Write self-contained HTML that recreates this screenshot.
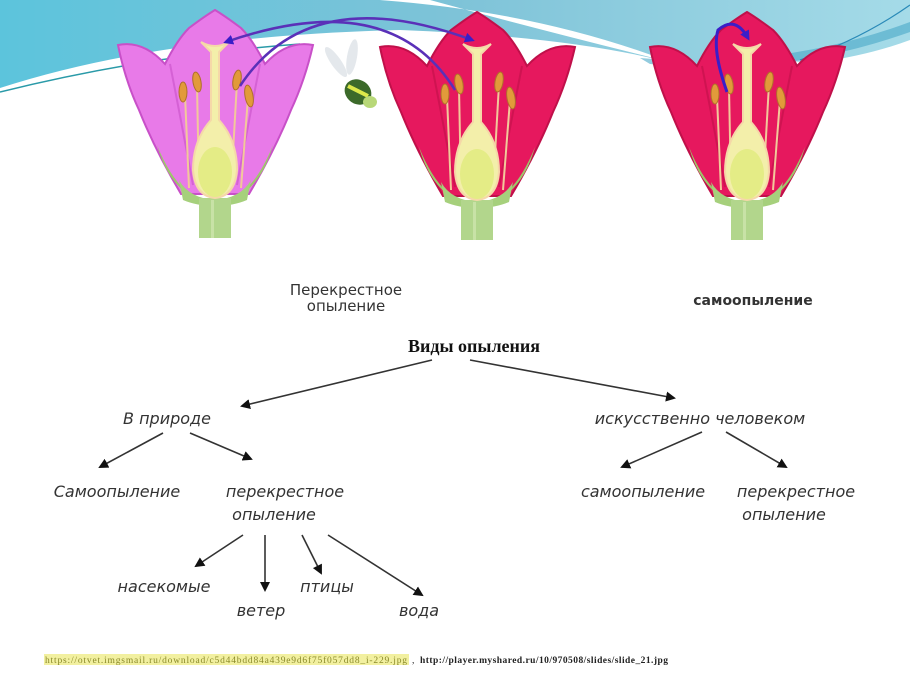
<!DOCTYPE html>
<html><head><meta charset="utf-8"><style>
html,body{margin:0;padding:0;background:#fff}
svg{display:block}
.t{font-family:"DejaVu Sans","Liberation Sans",sans-serif;font-style:italic;fill:#333;font-size:16px}
</style></head><body>
<svg width="910" height="683" viewBox="0 0 910 683" xmlns="http://www.w3.org/2000/svg">
<defs>
<linearGradient id="bg" x1="0" y1="0" x2="1" y2="0">
<stop offset="0" stop-color="#5cc4dc"/><stop offset="0.5" stop-color="#7ec3d8"/><stop offset="1" stop-color="#a5dbe8"/></linearGradient>
<marker id="ah" markerWidth="10" markerHeight="10" refX="8" refY="5" orient="auto" markerUnits="userSpaceOnUse">
<path d="M0,0 L10,5 L0,10 Z" fill="#111"/></marker>
<marker id="pa" markerWidth="10" markerHeight="10" refX="7" refY="5" orient="auto" markerUnits="userSpaceOnUse">
<path d="M0,0 L10,5 L0,10 Z" fill="#3a1ec8"/></marker>
<g id="fl">
<path d="M-97,45 Q-72,40 -50,64 Q-38,40 -26,28 Q-10,16 0,10 Q10,16 26,28 Q38,40 50,64 Q72,40 98,45 Q90,80 76,110 Q60,150 34,194 L-34,194 Q-60,150 -76,110 Q-90,80 -97,45 Z" fill="var(--p)" stroke="var(--e)" stroke-width="2"/>
<path d="M-45,64 Q-34,120 -22,185 M45,64 Q34,120 22,185" stroke="var(--e)" stroke-width="2" fill="none" opacity="0.6"/>
<path d="M-58,145 Q-48,182 -22,198 L-30,190 Q-46,175 -58,145 Z M58,145 Q48,182 22,198 L30,190 Q46,175 58,145 Z" fill="#9cc86a"/>
<path d="M-36,180 Q-26,198 0,200 Q26,198 36,180 L32,200 Q18,206 0,206 Q-18,206 -32,200 Z" fill="#a6d07c"/>
<rect x="-16" y="198" width="32" height="40" fill="#b2d68c"/>
<rect x="-4" y="200" width="3" height="38" fill="#c8e2a6"/>
<line x1="-30" y1="95" x2="-26" y2="188" stroke="#f2c89a" stroke-width="2"/>
<line x1="-18" y1="85" x2="-16" y2="188" stroke="#f2c89a" stroke-width="2"/>
<line x1="22" y1="82" x2="16" y2="188" stroke="#f2c89a" stroke-width="2"/>
<line x1="33" y1="98" x2="26" y2="188" stroke="#f2c89a" stroke-width="2"/>
<ellipse cx="-32" cy="92" rx="4" ry="10" fill="#e29a3a" stroke="#b0702a"/>
<ellipse cx="-18" cy="82" rx="4" ry="10" fill="#e29a3a" stroke="#b0702a" transform="rotate(-10 -18 82)"/>
<ellipse cx="22" cy="80" rx="4" ry="10" fill="#e29a3a" stroke="#b0702a" transform="rotate(10 22 80)"/>
<ellipse cx="34" cy="96" rx="4" ry="11" fill="#e29a3a" stroke="#b0702a" transform="rotate(-10 34 96)"/>
<path d="M-14,42 Q0,50 14,42 L4,52 L4,120 Q22,140 22,170 Q20,196 0,198 Q-20,196 -22,170 Q-22,140 -4,120 L-4,52 Z" fill="#f3efaa" stroke="#f5d8a8" stroke-width="2"/>
<ellipse cx="0" cy="172" rx="17" ry="25" fill="#e4ec86"/>
</g>
</defs>
<path d="M0,0 H910 V40 Q870,55 820,62 L660,60 Q560,36 400,30 Q160,36 0,88 Z" fill="url(#bg)"/>
<path d="M380,0 Q540,12 670,62 Q540,30 430,0 Z" fill="#fff"/>
<path d="M640,58 Q780,70 910,22 L910,32 Q780,78 650,64 Z" fill="#4aa8c8" opacity="0.6"/>
<path d="M0,92 Q150,55 300,44" stroke="#2a9aa8" stroke-width="1.5" fill="none"/>
<path d="M800,60 Q860,40 910,5" stroke="#2a8ab8" stroke-width="1.2" fill="none"/>
<g style="--p:#e87ae8;--e:#c850c8"><use href="#fl" x="215" y="0"/></g>
<g style="--p:#e6185e;--e:#c0104a"><use href="#fl" x="477" y="2"/></g>
<g style="--p:#e6185e;--e:#c0104a"><use href="#fl" x="747" y="2"/></g>
<!-- bee -->
<ellipse cx="336" cy="62" rx="5" ry="18" fill="#e4e8ec" transform="rotate(-35 336 62)"/>
<ellipse cx="352" cy="57" rx="5" ry="18" fill="#e4e8ec" transform="rotate(10 352 57)"/>
<ellipse cx="358" cy="92" rx="14" ry="12" fill="#3c6a2a" transform="rotate(35 358 92)"/>
<path d="M348,86 L368,96" stroke="#dce84a" stroke-width="4"/>
<ellipse cx="370" cy="102" rx="7" ry="6" fill="#b8d878"/>
<!-- purple arrows -->
<path d="M455,90 Q390,-15 226,42" stroke="#5a30b8" stroke-width="2.5" fill="none" marker-end="url(#pa)"/>
<path d="M240,86 Q310,-20 472,40" stroke="#5a30b8" stroke-width="2.5" fill="none" marker-end="url(#pa)"/>
<path d="M727,92 Q712,50 718,30 Q735,15 748,38" stroke="#3a1ec8" stroke-width="3" fill="none" marker-end="url(#pa)"/>
<!-- captions -->
<text x="346" y="295" text-anchor="middle" font-family="DejaVu Sans" font-size="15" fill="#333">Перекрестное</text>
<text x="346" y="311" text-anchor="middle" font-family="DejaVu Sans" font-size="15" fill="#333">опыление</text>
<text x="753" y="305" text-anchor="middle" font-family="DejaVu Sans" font-size="14" font-weight="bold" fill="#333">самоопыление</text>
<!-- diagram -->
<text x="474" y="352" text-anchor="middle" font-family="Liberation Serif" font-size="18" font-weight="bold" fill="#111">Виды опыления</text>
<g stroke="#333" stroke-width="1.6" fill="none" marker-end="url(#ah)">
<line x1="432" y1="360" x2="242" y2="406"/>
<line x1="470" y1="360" x2="674" y2="398"/>
<line x1="163" y1="433" x2="100" y2="467"/>
<line x1="190" y1="433" x2="251" y2="459"/>
<line x1="702" y1="432" x2="622" y2="467"/>
<line x1="726" y1="432" x2="786" y2="467"/>
<line x1="243" y1="535" x2="196" y2="566"/>
<line x1="265" y1="535" x2="265" y2="590"/>
<line x1="302" y1="535" x2="321" y2="573"/>
<line x1="328" y1="535" x2="422" y2="595"/>
</g>
<text class="t" x="167" y="424" text-anchor="middle">В природе</text>
<text class="t" x="700" y="424" text-anchor="middle">искусственно человеком</text>
<text class="t" x="117" y="497" text-anchor="middle">Самоопыление</text>
<text class="t" x="285" y="497" text-anchor="middle">перекрестное</text>
<text class="t" x="274" y="520" text-anchor="middle">опыление</text>
<text class="t" x="643" y="497" text-anchor="middle">самоопыление</text>
<text class="t" x="796" y="497" text-anchor="middle">перекрестное</text>
<text class="t" x="784" y="520" text-anchor="middle">опыление</text>
<text class="t" x="164" y="592" text-anchor="middle">насекомые</text>
<text class="t" x="261" y="616" text-anchor="middle">ветер</text>
<text class="t" x="327" y="592" text-anchor="middle">птицы</text>
<text class="t" x="419" y="616" text-anchor="middle">вода</text>
<!-- footer -->
<rect x="44" y="654" width="365" height="11" fill="#f2f0a0"/>
<text x="45" y="663" font-family="Liberation Serif" font-size="9.5" fill="#8a8a2a" textLength="362">https://otvet.imgsmail.ru/download/c5d44bdd84a439e9d6f75f057dd8_i-229.jpg</text>
<text x="412" y="663" font-family="Liberation Serif" font-size="9.5" fill="#222">,</text>
<text x="420" y="663" font-family="Liberation Serif" font-size="9.5" font-weight="bold" fill="#222" textLength="248">http://player.myshared.ru/10/970508/slides/slide_21.jpg</text>
</svg>
</body></html>
